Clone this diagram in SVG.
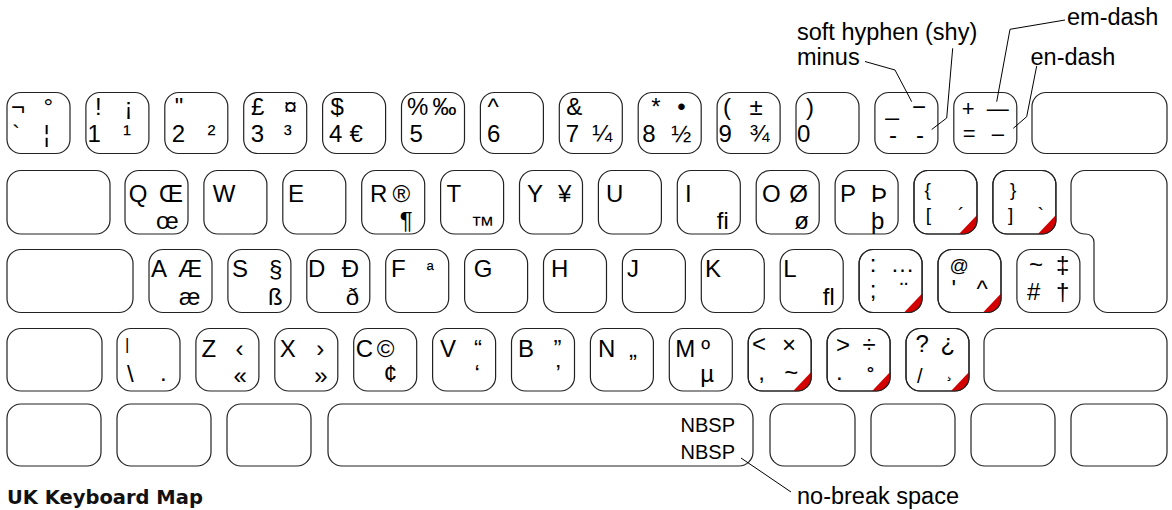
<svg xmlns="http://www.w3.org/2000/svg" width="1172" height="510" viewBox="0 0 1172 510">
<style>
.key{fill:#fff;stroke:#222;stroke-width:1.2}
.ko{fill:none;stroke:#222;stroke-width:1.2}
.dead{fill:#d40000;stroke:none}
text{font-family:"Liberation Sans",Arial,Helvetica,sans-serif;font-size:24px;fill:#000}
.s{font-size:19px}
.n{font-size:20px}
.m{font-size:22px}
.lbl{font-size:23.5px}
.title{font-family:"DejaVu Sans",Verdana,sans-serif;font-weight:bold;font-size:19.5px;fill:#111}
.conn{fill:none;stroke:#000;stroke-width:1}
</style>

<!-- Row 1 -->
<g id="key-grave" transform="translate(7,92.5)"><rect class="key" width="63" height="61" rx="14"/><text x="4" y="22.5">¬</text><text x="36.5" y="22.5">°</text><text x="5" y="49">`</text><text x="36.5" y="49">¦</text></g>
<g id="key-1" transform="translate(85.9,92.5)"><rect class="key" width="63" height="61" rx="14"/><text x="9" y="22.5">!</text><text x="38.5" y="22.5">¡</text><text x="1.5" y="49">1</text><text x="37" y="49">¹</text></g>
<g id="key-2" transform="translate(164.8,92.5)"><rect class="key" width="63" height="61" rx="14"/><text x="10" y="22.5">"</text><text x="7" y="49">2</text><text x="42.7" y="49">²</text></g>
<g id="key-3" transform="translate(243.7,92.5)"><rect class="key" width="63" height="61" rx="14"/><text x="7.3" y="22.5">£</text><text x="40" y="22.5">¤</text><text x="7" y="49">3</text><text x="40" y="49">³</text></g>
<g id="key-4" transform="translate(322.6,92.5)"><rect class="key" width="63" height="61" rx="14"/><text x="8" y="22.5">$</text><text x="6.5" y="49">4</text><text x="27" y="49">€</text></g>
<g id="key-5" transform="translate(401.5,92.5)"><rect class="key" width="63" height="61" rx="14"/><text x="5.5" y="22.5">%</text><text x="31" y="22.5">‰</text><text x="8" y="49">5</text></g>
<g id="key-6" transform="translate(480.4,92.5)"><rect class="key" width="63" height="61" rx="14"/><text x="7" y="22.5">^</text><text x="6.6" y="49">6</text></g>
<g id="key-7" transform="translate(559.3,92.5)"><rect class="key" width="63" height="61" rx="14"/><text x="7" y="22.5">&amp;</text><text x="6.5" y="49">7</text><text x="33" y="49">¼</text></g>
<g id="key-8" transform="translate(638.2,92.5)"><rect class="key" width="63" height="61" rx="14"/><text x="13" y="22.5">*</text><text x="39" y="22.5">•</text><text x="4" y="49">8</text><text x="33" y="49">½</text></g>
<g id="key-9" transform="translate(717.1,92.5)"><rect class="key" width="63" height="61" rx="14"/><text x="6" y="22.5">(</text><text x="32.5" y="22.5">±</text><text x="1.5" y="49">9</text><text x="32.5" y="49">¾</text></g>
<g id="key-0" transform="translate(796,92.5)"><rect class="key" width="63" height="61" rx="14"/><text x="10" y="22.5">)</text><text x="1" y="49">0</text></g>
<g id="key-minus" transform="translate(874.9,92.5)"><rect class="key" width="63" height="61" rx="14"/><text x="10.6" y="22.5">_</text><text x="37" y="22.5">−</text><text x="14" y="50.5">-</text><text x="41" y="50.5">-</text></g>
<g id="key-equal" transform="translate(953.8,92.5)"><rect class="key" width="63" height="61" rx="14"/><text class="m" x="8" y="23.5">+</text><text class="m" x="33" y="23">—</text><text class="m" x="9" y="48.7">=</text><text class="m" x="38" y="48.2">–</text></g>
<g id="key-backspace" transform="translate(1032,92.5)"><rect class="key" width="135" height="61" rx="14"/></g>

<!-- Row 2 -->
<g id="key-tab" transform="translate(7,170.5)"><rect class="key" width="103" height="63.5" rx="14"/></g>
<g id="key-q" transform="translate(125,170.5)"><rect class="key" width="63" height="63.5" rx="14"/><text x="3.8" y="31">Q</text><text x="34" y="31">Œ</text><text x="31" y="58">œ</text></g>
<g id="key-w" transform="translate(203.9,170.5)"><rect class="key" width="63" height="63.5" rx="14"/><text x="8.8" y="31">W</text></g>
<g id="key-e" transform="translate(282.8,170.5)"><rect class="key" width="63" height="63.5" rx="14"/><text x="5.2" y="31">E</text></g>
<g id="key-r" transform="translate(361.7,170.5)"><rect class="key" width="63" height="63.5" rx="14"/><text x="8.3" y="31">R</text><text x="30.8" y="31">®</text><text x="38" y="58">¶</text></g>
<g id="key-t" transform="translate(440.6,170.5)"><rect class="key" width="63" height="63.5" rx="14"/><text x="6" y="31">T</text><text x="30" y="62">™</text></g>
<g id="key-y" transform="translate(519.5,170.5)"><rect class="key" width="63" height="63.5" rx="14"/><text x="7.5" y="31">Y</text><text x="38.5" y="31">¥</text></g>
<g id="key-u" transform="translate(598.4,170.5)"><rect class="key" width="63" height="63.5" rx="14"/><text x="7.6" y="31">U</text></g>
<g id="key-i" transform="translate(677.3,170.5)"><rect class="key" width="63" height="63.5" rx="14"/><text x="7.7" y="31">I</text><text x="39.5" y="58">ﬁ</text></g>
<g id="key-o" transform="translate(756.2,170.5)"><rect class="key" width="63" height="63.5" rx="14"/><text x="5.8" y="31">O</text><text x="33" y="31">Ø</text><text x="38" y="58">ø</text></g>
<g id="key-p" transform="translate(835.1,170.5)"><rect class="key" width="63" height="63.5" rx="14"/><text x="5" y="31">P</text><text x="36" y="31">Þ</text><text x="36" y="58">þ</text></g>
<g id="key-lbracket" transform="translate(914,170.5)"><rect class="key" width="63" height="63.5" rx="14"/><path class="dead" d="M45,63.5 H49 A14 14 0 0 0 63,49.5 V44.5 Z"/><rect class="ko" width="63" height="63.5" rx="14"/><text class="s" x="10.4" y="25.5">{</text><text class="s" x="11.7" y="50.5">[</text><text class="s" x="44" y="50.5">´</text></g>
<g id="key-rbracket" transform="translate(992.9,170.5)"><rect class="key" width="63" height="63.5" rx="14"/><path class="dead" d="M45,63.5 H49 A14 14 0 0 0 63,49.5 V44.5 Z"/><rect class="ko" width="63" height="63.5" rx="14"/><text class="s" x="17" y="25.5">}</text><text class="s" x="15" y="50.5">]</text><text class="s" x="44.7" y="50.5">`</text></g>
<g id="key-enter"><path class="key" d="M1085,170.5 H1153 A14 14 0 0 1 1167,184.5 V298.5 A14 14 0 0 1 1153,312.5 H1108 A14 14 0 0 1 1094,298.5 V242 A8 8 0 0 0 1086,234 H1085 A14 14 0 0 1 1071,220 V184.5 A14 14 0 0 1 1085,170.5 Z"/></g>

<!-- Row 3 -->
<g id="key-caps" transform="translate(7,249.5)"><rect class="key" width="126" height="63" rx="14"/></g>
<g id="key-a" transform="translate(149,249.5)"><rect class="key" width="63" height="63" rx="14"/><text x="2" y="27.2">A</text><text x="29" y="27.2">Æ</text><text x="30" y="55.5">æ</text></g>
<g id="key-s" transform="translate(227.9,249.5)"><rect class="key" width="63" height="63" rx="14"/><text x="4" y="27.2">S</text><text x="41" y="27.2">§</text><text x="40" y="55.5">ß</text></g>
<g id="key-d" transform="translate(306.8,249.5)"><rect class="key" width="63" height="63" rx="14"/><text x="1.2" y="27.2">D</text><text x="35" y="27.2">Ð</text><text x="39" y="55.5">ð</text></g>
<g id="key-f" transform="translate(385.7,249.5)"><rect class="key" width="63" height="63" rx="14"/><text x="5.3" y="27.2">F</text><text class="s" x="41" y="26">ª</text></g>
<g id="key-g" transform="translate(464.6,249.5)"><rect class="key" width="63" height="63" rx="14"/><text x="9.2" y="27.2">G</text></g>
<g id="key-h" transform="translate(543.5,249.5)"><rect class="key" width="63" height="63" rx="14"/><text x="7.5" y="27.2">H</text></g>
<g id="key-j" transform="translate(622.4,249.5)"><rect class="key" width="63" height="63" rx="14"/><text x="4.6" y="27.2">J</text></g>
<g id="key-k" transform="translate(701.3,249.5)"><rect class="key" width="63" height="63" rx="14"/><text x="3.7" y="27.2">K</text></g>
<g id="key-l" transform="translate(780.2,249.5)"><rect class="key" width="63" height="63" rx="14"/><text x="3" y="27.2">L</text><text x="42.5" y="55.5">ﬂ</text></g>
<g id="key-semicolon" transform="translate(859.1,249.5)"><rect class="key" width="63" height="63" rx="14"/><path class="dead" d="M45,63 H49 A14 14 0 0 0 63,49 V44 Z"/><rect class="ko" width="63" height="63" rx="14"/><text x="10.7" y="22.5">:</text><text x="31.5" y="22.5">…</text><text x="10.7" y="48">;</text><text x="41" y="49.5">¨</text></g>
<g id="key-quote" transform="translate(938,249.5)"><rect class="key" width="63" height="63" rx="14"/><path class="dead" d="M45,63 H49 A14 14 0 0 0 63,49 V44 Z"/><rect class="ko" width="63" height="63" rx="14"/><text class="s" x="11.4" y="22.5">@</text><text x="13.6" y="47.5">'</text><text x="38.5" y="47.5">^</text></g>
<g id="key-hash" transform="translate(1016.9,249.5)"><rect class="key" width="63" height="63" rx="14"/><text x="12" y="23.5">~</text><text x="39" y="23">‡</text><text x="10" y="50.5">#</text><text x="39" y="50.5">†</text></g>

<!-- Row 4 -->
<g id="key-lshift" transform="translate(7,328.5)"><rect class="key" width="95" height="62.5" rx="14"/></g>
<g id="key-backslash" transform="translate(117,328.5)"><rect class="key" width="63" height="62.5" rx="14"/><text x="8" y="21.5" style="font-size:17px">|</text><text x="10" y="53.5">\</text><text x="43" y="52">.</text></g>
<g id="key-z" transform="translate(195.9,328.5)"><rect class="key" width="63" height="62.5" rx="14"/><text x="5.6" y="28.5">Z</text><text x="39.6" y="28.5">‹</text><text x="37.6" y="55.5">«</text></g>
<g id="key-x" transform="translate(274.8,328.5)"><rect class="key" width="63" height="62.5" rx="14"/><text x="5" y="28.5">X</text><text x="41.5" y="28.5">›</text><text x="39.5" y="55.5">»</text></g>
<g id="key-c" transform="translate(353.7,328.5)"><rect class="key" width="63" height="62.5" rx="14"/><text x="2" y="28.5">C</text><text x="23" y="28.5">©</text><text x="30" y="53.5">¢</text></g>
<g id="key-v" transform="translate(432.6,328.5)"><rect class="key" width="63" height="62.5" rx="14"/><text x="7.4" y="28.5">V</text><text x="41.5" y="28.5">“</text><text x="42" y="53.5">‘</text></g>
<g id="key-b" transform="translate(511.5,328.5)"><rect class="key" width="63" height="62.5" rx="14"/><text x="6.5" y="28.5">B</text><text x="42" y="28.5">”</text><text x="44" y="53.5">’</text></g>
<g id="key-n" transform="translate(590.4,328.5)"><rect class="key" width="63" height="62.5" rx="14"/><text x="7.6" y="28.5">N</text><text x="38.6" y="28.5">„</text></g>
<g id="key-m" transform="translate(669.3,328.5)"><rect class="key" width="63" height="62.5" rx="14"/><text x="6" y="28.5">M</text><text x="32" y="28.5">º</text><text x="31" y="53.5">µ</text></g>
<g id="key-comma" transform="translate(748.2,328.5)"><rect class="key" width="63" height="62.5" rx="14"/><path class="dead" d="M45,62.5 H49 A14 14 0 0 0 63,48.5 V43.5 Z"/><rect class="ko" width="63" height="62.5" rx="14"/><text x="3.8" y="23.5">&lt;</text><text x="33.8" y="24.5">×</text><text x="10" y="51.5">,</text><text x="36" y="52.5">~</text></g>
<g id="key-period" transform="translate(827.1,328.5)"><rect class="key" width="63" height="62.5" rx="14"/><path class="dead" d="M45,62.5 H49 A14 14 0 0 0 63,48.5 V43.5 Z"/><rect class="ko" width="63" height="62.5" rx="14"/><text x="9" y="24">&gt;</text><text x="35.4" y="24">÷</text><text x="9" y="51.5">.</text><text x="40" y="57.5">˚</text></g>
<g id="key-slash" transform="translate(906,328.5)"><rect class="key" width="63" height="62.5" rx="14"/><path class="dead" d="M45,62.5 H49 A14 14 0 0 0 63,48.5 V43.5 Z"/><rect class="ko" width="63" height="62.5" rx="14"/><text x="9.6" y="23.5">?</text><text x="34.6" y="22.5">¿</text><text class="n" x="11" y="54.5">/</text><text x="40.5" y="48" style="font-size:17px">¸</text></g>
<g id="key-rshift" transform="translate(984,328.5)"><rect class="key" width="183" height="62.5" rx="14"/></g>

<!-- Row 5 -->
<g id="key-ctrl" transform="translate(7,404)"><rect class="key" width="94" height="62" rx="14"/></g>
<g id="key-alt" transform="translate(117,404)"><rect class="key" width="94" height="62" rx="14"/></g>
<g id="key-cmd" transform="translate(227,404)"><rect class="key" width="84" height="62" rx="14"/></g>
<g id="key-space" transform="translate(328,404)"><rect class="key" width="425" height="62" rx="14"/><text class="n" x="407" y="28" text-anchor="end">NBSP</text><text class="n" x="407" y="55" text-anchor="end">NBSP</text></g>
<g id="key-rcmd" transform="translate(770,404)"><rect class="key" width="85" height="62" rx="14"/></g>
<g id="key-ralt" transform="translate(871,404)"><rect class="key" width="84" height="62" rx="14"/></g>
<g id="key-menu" transform="translate(971,404)"><rect class="key" width="84" height="62" rx="14"/></g>
<g id="key-rctrl" transform="translate(1071,404)"><rect class="key" width="96" height="62" rx="14"/></g>

<!-- Connectors -->
<g id="connectors">
<polyline class="conn" points="865,61.5 895,70 911.7,101.7"/>
<polyline class="conn" points="952.7,48.3 946.7,118 931.7,129.5"/>
<polyline class="conn" points="1065,20 1010,29.3 996.7,101.7"/>
<polyline class="conn" points="1036.7,66 1026.7,116.7 1013.3,128.3"/>
<polyline class="conn" points="741,458 791,492"/>
</g>

<!-- Annotation labels -->
<g id="labels">
<text class="lbl" x="797" y="40">soft hyphen (shy)</text>
<text class="lbl" x="797" y="65">minus</text>
<text class="lbl" x="1067" y="25">em-dash</text>
<text class="lbl" x="1030.5" y="65">en-dash</text>
<text class="lbl" x="797" y="504">no-break space</text>
</g>

<g id="title"><text class="title" x="7" y="504">UK Keyboard Map</text></g>
</svg>
